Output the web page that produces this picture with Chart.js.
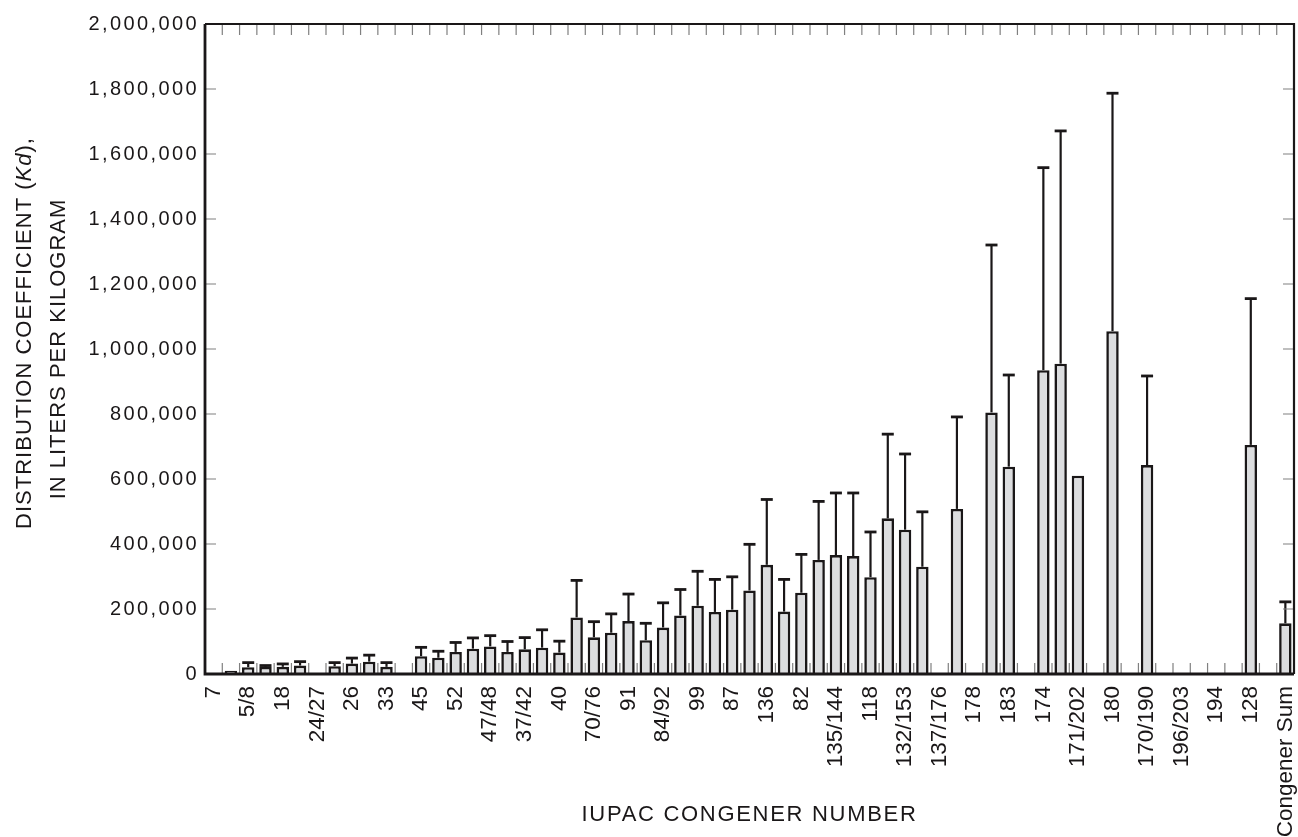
<!DOCTYPE html>
<html>
<head>
<meta charset="utf-8">
<script src="https://cdn.jsdelivr.net/npm/chart.js@4/dist/chart.umd.min.js"></script>
<style>
html, body { margin: 0; padding: 0; background: #fff; }
#wrap { width: 1298px; height: 837px; position: relative; }
</style>
</head>
<body>
<div id="wrap"><canvas id="myChart"></canvas></div>
<script>
// every other congener is labelled on the original axis
const congeners = ['7', '', '5/8', '', '18', '', '24/27', '', '26', '', '33', '', '45', '', '52', '',
    '47/48', '', '37/42', '', '40', '', '70/76', '', '91', '', '84/92', '', '99', '', '87', '',
    '136', '', '82', '', '135/144', '', '118', '', '132/153', '', '137/176', '', '178', '', '183', '',
    '174', '', '171/202', '', '180', '', '170/190', '', '196/203', '', '194', '', '128', '', 'Congener Sum']

// mean Kd, L/kg
const kdMean = [null, 10000, 21000, 22000, 22000, 26000, null, 24000, 32000, 38000, 22000, null,
    55000, 50000, 68000, 78000, 85000, 68000, 76000, 81000, 66000,
    174000, 113000, 127000, 163000, 104000, 143000, 180000, 210000, 191000, 198000,
    257000, 336000, 192000, 250000, 351000, 366000, 363000, 298000, 479000, 444000, 330000,
    null, 508000, null, 805000, 638000, null, 935000, 955000, 610000, null, 1055000,
    null, 643000, null, null, null, null, null, 705000, null, 156000]

// top of the error bar
const kdUpper = [null, null, 35000, 26000, 31000, 38000, null, 35000, 49000, 58000, 35000, null,
    82000, 70000, 97000, 111000, 118000, 100000, 112000, 136000, 101000,
    288000, 161000, 185000, 246000, 156000, 219000, 260000, 316000, 291000, 299000,
    399000, 537000, 291000, 368000, 531000, 557000, 557000, 437000, 738000, 677000, 499000,
    null, 791000, null, 1320000, 920000, null, 1558000, 1671000, null, null, 1787000,
    null, 917000, null, null, null, null, null, 1155000, null, 222000]

const yMin = 0
const yMax = 2000000
const yStep = 200000

const ink = '#1a1718'
const FONT = "'Liberation Sans', Arial, Helvetica, sans-serif"

const frame = {
    id: 'frame',
    afterDatasetsDraw(chart) {
        const ctx = chart.ctx
        const y = chart.scales.y
        const meta = chart.getDatasetMeta(0)
        ctx.save()
        ctx.strokeStyle = ink
        meta.data.forEach((bar, i) => {
            if (kdMean[i] == null || kdUpper[i] == null) return
            const yt = y.getPixelForValue(kdUpper[i])
            ctx.lineWidth = 2.2
            ctx.beginPath()
            ctx.moveTo(bar.x, bar.y)
            ctx.lineTo(bar.x, yt)
            ctx.stroke()
            ctx.lineWidth = 2.8
            ctx.beginPath()
            ctx.moveTo(bar.x - 6, yt)
            ctx.lineTo(bar.x + 6, yt)
            ctx.stroke()
        })
        ctx.restore()
    },
    afterDraw(chart) {
        const ctx = chart.ctx
        const x = chart.scales.x
        const y = chart.scales.y
        const a = chart.chartArea
        ctx.save()

        // inner ticks
        ctx.strokeStyle = '#808080'
        ctx.lineWidth = 1.2
        ctx.beginPath()
        for (let i = 1; i < congeners.length; i++) {
            const xb = (x.getPixelForTick(i - 1) + x.getPixelForTick(i)) / 2
            ctx.moveTo(xb, a.top); ctx.lineTo(xb, a.top + 11)
            ctx.moveTo(xb, a.bottom); ctx.lineTo(xb, a.bottom - 11)
        }
        y.ticks.forEach(t => {
            if (t.value <= yMin || t.value >= yMax) return
            const yy = y.getPixelForValue(t.value)
            ctx.moveTo(a.left, yy); ctx.lineTo(a.left + 11, yy)
            ctx.moveTo(a.right, yy); ctx.lineTo(a.right - 11, yy)
        })
        ctx.stroke()

        // box
        ctx.strokeStyle = ink
        ctx.lineWidth = 2.2
        ctx.beginPath()
        ctx.moveTo(a.left, a.top); ctx.lineTo(a.right, a.top); ctx.lineTo(a.right, a.bottom)
        ctx.stroke()
        ctx.lineWidth = 2.8
        ctx.beginPath()
        ctx.moveTo(a.left, a.top); ctx.lineTo(a.left, a.bottom); ctx.lineTo(a.right, a.bottom)
        ctx.stroke()

        // y tick labels (spaced out like the original)
        ctx.fillStyle = ink
        ctx.font = '20px ' + FONT
        ctx.letterSpacing = '2.4px'
        ctx.textAlign = 'right'
        ctx.textBaseline = 'middle'
        y.ticks.forEach(t => {
            ctx.fillText(t.value.toLocaleString('en-US'), a.left - 6, y.getPixelForValue(t.value))
        })

        // x title
        ctx.font = '22px ' + FONT
        ctx.letterSpacing = '1.7px'
        ctx.textAlign = 'center'
        ctx.textBaseline = 'alphabetic'
        ctx.fillText('IUPAC CONGENER NUMBER', (a.left + a.right) / 2, 821)

        // y title, two lines, Kd in italics
        ctx.letterSpacing = '1px'
        ctx.textAlign = 'left'
        const parts = [['DISTRIBUTION COEFFICIENT (', false], ['Kd', true], ['),', false]]
        const fontOf = it => (it ? 'italic ' : '') + '22px ' + FONT
        let w = 0
        parts.forEach(p => { ctx.font = fontOf(p[1]); w += ctx.measureText(p[0]).width })
        ctx.save()
        ctx.translate(31, 333)
        ctx.rotate(-Math.PI / 2)
        let cx = -w / 2
        parts.forEach(p => {
            ctx.font = fontOf(p[1])
            ctx.fillText(p[0], cx, 0)
            cx += ctx.measureText(p[0]).width
        })
        ctx.restore()
        ctx.save()
        ctx.translate(65, 349)
        ctx.rotate(-Math.PI / 2)
        ctx.font = fontOf(false)
        ctx.textAlign = 'center'
        ctx.fillText('IN LITERS PER KILOGRAM', 0, 0)
        ctx.restore()

        ctx.restore()
    }
}

function drawChart() {
    const ctx = document.getElementById('myChart')
    Chart.defaults.font.family = FONT
    Chart.defaults.color = ink

    const data = {
        labels: congeners,
        datasets: [{
            label: 'Kd',
            data: kdMean,
            backgroundColor: '#dcdddf',
            borderColor: ink,
            borderWidth: 2.6,
            barPercentage: 0.72,
            categoryPercentage: 1.0
        }]
    }

    const config = {
        type: 'bar',
        data: data,
        options: {
            responsive: true,
            maintainAspectRatio: false,
            animation: false,
            layout: {padding: {top: 24, right: 4, bottom: 0, left: 0}},
            plugins: {legend: {display: false}, tooltip: {enabled: false}},
            scales: {
                x: {
                    grid: {display: false, drawTicks: false},
                    border: {display: false},
                    ticks: {
                        autoSkip: false, maxRotation: 90, minRotation: 90, padding: 12,
                        font: {size: 22.5}, color: ink
                    },
                    afterFit: s => { s.height = 163; s.paddingLeft = 0; s.paddingRight = 0 }
                },
                y: {
                    min: yMin, max: yMax,
                    grid: {display: false, drawTicks: false},
                    border: {display: false},
                    ticks: {stepSize: yStep, display: false},
                    afterFit: s => { s.width = 205; s.paddingTop = 0; s.paddingBottom = 0 }
                }
            }
        },
        plugins: [frame]
    }

    new Chart(ctx, config)
}

document.addEventListener('DOMContentLoaded', drawChart)
</script>
</body>
</html>
